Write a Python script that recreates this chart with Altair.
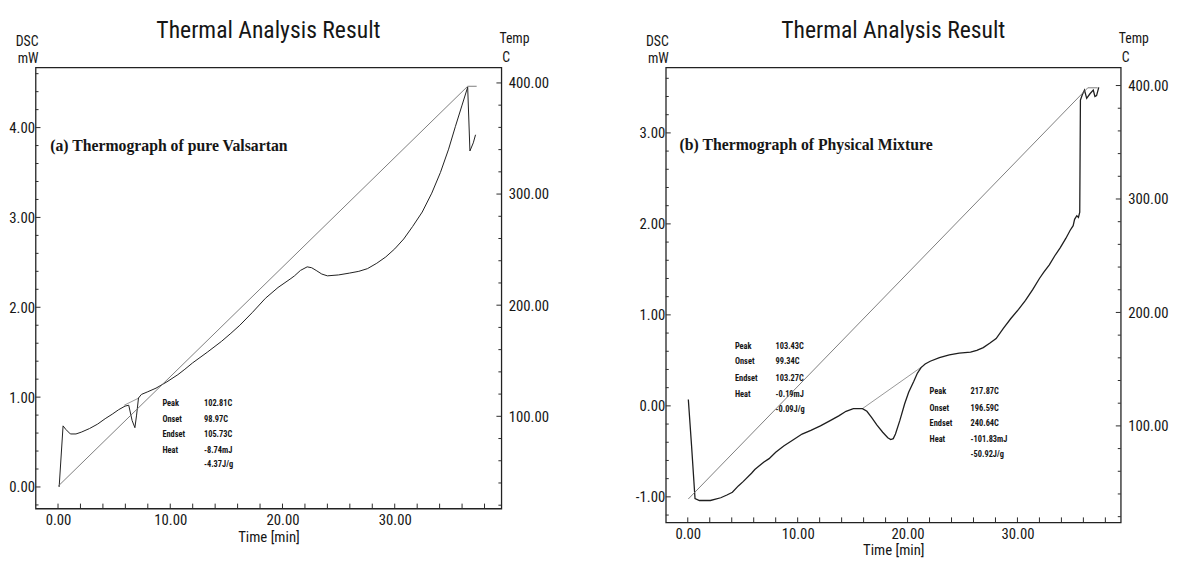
import altair as alt
import pandas as pd

# ---------------- values ----------------
# Panel (a): pure Valsartan  -- DSC curve (time [min], mW)
a_time = [0.1, 0.45, 0.7, 1.1, 1.6, 2.07, 2.8, 3.53, 4.2, 4.83, 5.4, 5.97, 6.3, 6.6, 6.85,
          7.0, 7.17, 7.43, 8.0, 8.73, 9.7, 10.68, 11.3, 11.98, 13.3, 14.56, 15.4, 16.2, 17.3,
          18.48, 19.6, 20.75, 21.07, 21.6, 22.2, 22.6, 23.0, 23.5, 24.0, 25.0, 25.95, 26.8,
          27.57, 28.4, 29.2, 30.0, 30.8, 31.6, 32.45, 33.3, 34.07, 34.8, 35.4, 36.0, 36.5,
          36.7, 37.0, 37.2]
a_dsc = [0.0, 0.68, 0.64, 0.59, 0.59, 0.61, 0.65, 0.70, 0.76, 0.81, 0.86, 0.90, 0.91, 0.74, 0.66,
         0.80, 0.99, 1.03, 1.06, 1.10, 1.17, 1.25, 1.31, 1.38, 1.50, 1.62, 1.71, 1.80, 1.94,
         2.10, 2.22, 2.32, 2.35, 2.41, 2.45, 2.44, 2.41, 2.37, 2.35, 2.36, 2.38, 2.40,
         2.43, 2.49, 2.56, 2.65, 2.76, 2.90, 3.06, 3.27, 3.50, 3.76, 4.01, 4.25, 4.45,
         3.74, 3.83, 3.92]
# temperature program (time [min], C)
a_temp_time = [0.0, 36.5, 37.3]
a_temp = [37.0, 397.0, 397.0]
# integration baseline under the small peak
a_base_time = [5.9, 7.2]
a_base_dsc = [0.91, 0.99]
# peak report
a_ann_names = ["Peak", "Onset", "Endset", "Heat"]
a_ann_values = ["102.81C", "98.97C", "105.73C", "-8.74mJ", "-4.37J/g"]
a_ann_dsc = [0.93, 0.76, 0.59, 0.41, 0.25]
a_ann_name_time = 9.3
a_ann_value_time = 13.0
a_label = "(a) Thermograph of pure Valsartan"
a_label_time, a_label_dsc = -0.7, 3.79

# Panel (b): physical mixture -- DSC curve
b_time = [0.05, 0.35, 0.66, 1.06, 2.06, 3.0, 3.56, 4.06, 4.6, 5.06, 5.8, 6.1, 6.4, 6.9, 7.4, 8.0,
          8.73, 9.5, 10.4, 11.2, 12.07, 13.0, 13.74, 14.4, 15.07, 15.9, 16.3, 16.74, 17.2,
          17.74, 18.2, 18.47, 18.7, 18.9, 19.3, 19.73, 20.1, 20.57, 20.9, 21.23, 21.6, 22.06,
          22.9, 23.8, 24.7, 25.73, 26.3, 26.89, 27.5, 28.06, 28.7, 29.4, 30.1, 30.73, 31.4,
          32.0, 32.4, 32.9, 33.4, 33.9, 34.4, 34.8, 35.07, 35.2, 35.4, 35.55, 35.67, 35.73,
          35.9, 36.1, 36.3, 36.6, 36.9, 37.05, 37.2, 37.4]
b_dsc = [0.07, -0.45, -1.02, -1.04, -1.04, -1.01, -0.98, -0.95, -0.88, -0.83, -0.74, -0.70,
         -0.67, -0.62, -0.58, -0.51, -0.44, -0.38, -0.31, -0.27, -0.22, -0.16, -0.11, -0.06,
         -0.03, -0.03, -0.06, -0.13, -0.21, -0.29, -0.35, -0.37, -0.36, -0.31, -0.16, 0.02,
         0.15, 0.27, 0.36, 0.42, 0.46, 0.49, 0.53, 0.56, 0.58, 0.59, 0.61, 0.64, 0.69, 0.74,
         0.85, 0.96, 1.06, 1.16, 1.28, 1.40, 1.47, 1.55, 1.65, 1.74, 1.84, 1.93, 1.98, 2.05,
         2.09, 2.07, 2.13, 3.36, 3.42, 3.47, 3.38, 3.43, 3.47, 3.40, 3.41, 3.50]
b_temp_time = [0.05, 36.4, 37.3]
b_temp = [35.6, 398.0, 398.0]
b_base_time = [15.9, 21.3]
b_base_dsc = [-0.03, 0.43]
b_ann1_names = ["Peak", "Onset", "Endset", "Heat"]
b_ann1_values = ["103.43C", "99.34C", "103.27C", "-0.19mJ", "-0.09J/g"]
b_ann1_dsc = [0.66, 0.49, 0.31, 0.13, -0.03]
b_ann1_name_time = 4.29
b_ann1_value_time = 7.98
b_ann2_names = ["Peak", "Onset", "Endset", "Heat"]
b_ann2_values = ["217.87C", "196.59C", "240.64C", "-101.83mJ", "-50.92J/g"]
b_ann2_dsc = [0.16, -0.02, -0.19, -0.37, -0.53]
b_ann2_name_time = 22.0
b_ann2_value_time = 25.73
b_label = "(b) Thermograph of Physical Mixture"
b_label_time, b_label_dsc = -0.75, 2.87

TITLE = "Thermal Analysis Result"

# ---------------- styling ----------------
FONT = "'Liberation Sans Narrow', 'Arial Narrow', 'Roboto Condensed', 'Liberation Sans', Arial, sans-serif"
SERIF = "'Liberation Serif', 'Times New Roman', serif"
INK = "#161616"
TICK = "#2a2a2a"


def ticks(start, stop, step):
    n = int(round((stop - start) / step))
    return [round(start + i * step, 2) for i in range(n + 1)]


def is_major(v, mod):
    return abs(v / mod - round(v / mod)) < 0.001


def fmt_expr(mod):
    return ("abs(datum.value / %s - round(datum.value / %s)) < 0.001 ? "
            "replace(format(datum.value, '.2f'), '\u2212', '-') : ''" % (mod, mod))


def px_text(text, x, y, align, size, font=FONT, weight="normal", baseline="alphabetic"):
    return alt.Chart(pd.DataFrame({"t": [text]})).mark_text(
        font=font, fontSize=size, fontWeight=weight, align=align, baseline=baseline, color=INK
    ).encode(text="t:N", x=alt.value(x), y=alt.value(y))


def panel(width, height, xdom, ydom, tdom, ytick, dsc_t, dsc_v, temp_t, temp_v,
          base_t, base_v, blocks, label, label_t, label_v, dsc_width):
    x_vals = ticks(0, 38, 2)
    t_vals = ticks(20, 400, 20)
    x_axis = alt.Axis(title="Time  [min]", values=x_vals, labelExpr=fmt_expr(10),
                      ticks=False, domain=False, grid=False, labelPadding=4,
                      titlePadding=2, labelOverlap=False, labelFlush=False)
    y_axis = alt.Axis(title=None, values=ytick, labelExpr=fmt_expr(1), orient="left",
                      ticks=False, domain=False, grid=False, labelPadding=1,
                      labelOverlap=False, labelFlush=False)
    t_axis = alt.Axis(title=None, values=t_vals, labelExpr=fmt_expr(100),
                      orient="right", ticks=False, domain=False, grid=False,
                      labelPadding=7, labelOverlap=False, labelFlush=False)
    xs = alt.Scale(domain=xdom, nice=False, zero=False)
    ys = alt.Scale(domain=ydom, nice=False, zero=False)
    ts = alt.Scale(domain=tdom, nice=False, zero=False)

    def X(f="time"):
        return alt.X(f + ":Q", scale=xs, axis=x_axis)

    def Y(f="dsc"):
        return alt.Y(f + ":Q", scale=ys, axis=y_axis)

    def T(f="temp"):
        return alt.Y(f + ":Q", scale=ts, axis=t_axis)

    dsc_df = pd.DataFrame({"time": dsc_t, "dsc": dsc_v, "i": range(len(dsc_t))})
    base_df = pd.DataFrame({"time": base_t, "dsc": base_v, "i": range(len(base_t))})
    temp_df = pd.DataFrame({"time": temp_t, "temp": temp_v, "i": range(len(temp_t))})

    # inward tick marks, placed through the scales
    ytk = pd.DataFrame({"dsc": ytick, "len": [5 if is_major(v, 1) else 3 for v in ytick]})
    xtk = pd.DataFrame({"time": x_vals})
    ttk = pd.DataFrame({"temp": t_vals, "len": [5 if is_major(v, 100) else 3 for v in t_vals]})

    layers = [
        alt.Chart(ytk[ytk["len"] == 5]).mark_rule(color=TICK, strokeWidth=1).encode(
            y=Y(), x=alt.value(0), x2=alt.value(5)),
        alt.Chart(ytk[ytk["len"] == 3]).mark_rule(color=TICK, strokeWidth=1).encode(
            y=Y(), x=alt.value(0), x2=alt.value(3)),
        alt.Chart(xtk).mark_rule(color=TICK, strokeWidth=1).encode(
            x=X(), y=alt.value(height), y2=alt.value(height - 5)),
        alt.Chart(base_df).mark_line(color="#8a8a8a", strokeWidth=0.9).encode(
            x=X(), y=Y(), order="i:Q"),
        alt.Chart(dsc_df).mark_line(color="#1e1e1e", strokeWidth=dsc_width).encode(
            x=X(), y=Y(), order="i:Q"),
    ]
    for names, values, dscs, name_t, value_t in blocks:
        name_df = pd.DataFrame({"time": [name_t] * len(names), "dsc": dscs[:len(names)], "txt": names})
        value_df = pd.DataFrame({"time": [value_t] * len(values), "dsc": dscs, "txt": values})
        for df in (name_df, value_df):
            layers.append(alt.Chart(df).mark_text(
                font=FONT, fontSize=8.5, fontWeight="bold", align="left", baseline="middle",
                color=INK).encode(x=X(), y=Y(), text="txt:N"))
    lab_df = pd.DataFrame({"time": [label_t], "dsc": [label_v], "txt": [label]})
    layers.append(alt.Chart(lab_df).mark_text(
        font=SERIF, fontSize=16, fontWeight="bold", align="left", baseline="middle",
        color=INK).encode(x=X(), y=Y(), text="txt:N"))
    # page furniture: chart title and axis headings
    layers += [
        px_text(TITLE, width / 2, -30, "center", 24),
        px_text("DSC", 3, -22, "right", 14),
        px_text("mW", 3, -4, "right", 14),
        px_text("Temp", width - 2, -25, "left", 14),
        px_text("C", width + 1, -5, "left", 14),
    ]
    dsc_layer = alt.layer(*layers)
    temp_layer = alt.layer(
        alt.Chart(ttk[ttk["len"] == 5]).mark_rule(color=TICK, strokeWidth=1).encode(
            y=T(), x=alt.value(width), x2=alt.value(width - 5)),
        alt.Chart(ttk[ttk["len"] == 3]).mark_rule(color=TICK, strokeWidth=1).encode(
            y=T(), x=alt.value(width), x2=alt.value(width - 3)),
        alt.Chart(temp_df).mark_line(color="#6e6e6e", strokeWidth=0.9).encode(
            x=X(), y=T(), order="i:Q"),
    )
    return alt.layer(dsc_layer, temp_layer).resolve_scale(y="independent").resolve_axis(
        y="independent").properties(width=width, height=height)


pa = panel(473, 448, [-2.0, 39.5], [-0.24, 4.67], [17, 414], ticks(-0.2, 4.6, 0.2),
           a_time, a_dsc, a_temp_time, a_temp, a_base_time, a_base_dsc,
           [(a_ann_names, a_ann_values, a_ann_dsc, a_ann_name_time, a_ann_value_time)],
           a_label, a_label_time, a_label_dsc, 1.0)
pb = panel(462, 462, [-2.0, 39.4], [-1.28, 3.72], [15, 416], ticks(-1.2, 3.6, 0.2),
           b_time, b_dsc, b_temp_time, b_temp, b_base_time, b_base_dsc,
           [(b_ann1_names, b_ann1_values, b_ann1_dsc, b_ann1_name_time, b_ann1_value_time),
            (b_ann2_names, b_ann2_values, b_ann2_dsc, b_ann2_name_time, b_ann2_value_time)],
           b_label, b_label_time, b_label_dsc, 1.3)

chart = alt.hconcat(pa, pb, spacing=86).properties(
    padding={"left": 0, "right": 0, "top": 6, "bottom": 0}, background="white"
).configure_view(stroke="#222", strokeWidth=1.3).configure_axis(
    labelFont=FONT, labelFontSize=15, labelColor=INK, titleFont=FONT, titleFontSize=15,
    titleFontWeight="normal", titleColor=INK
)

chart.save("out.html", embed_options={"renderer": "svg", "actions": False})
